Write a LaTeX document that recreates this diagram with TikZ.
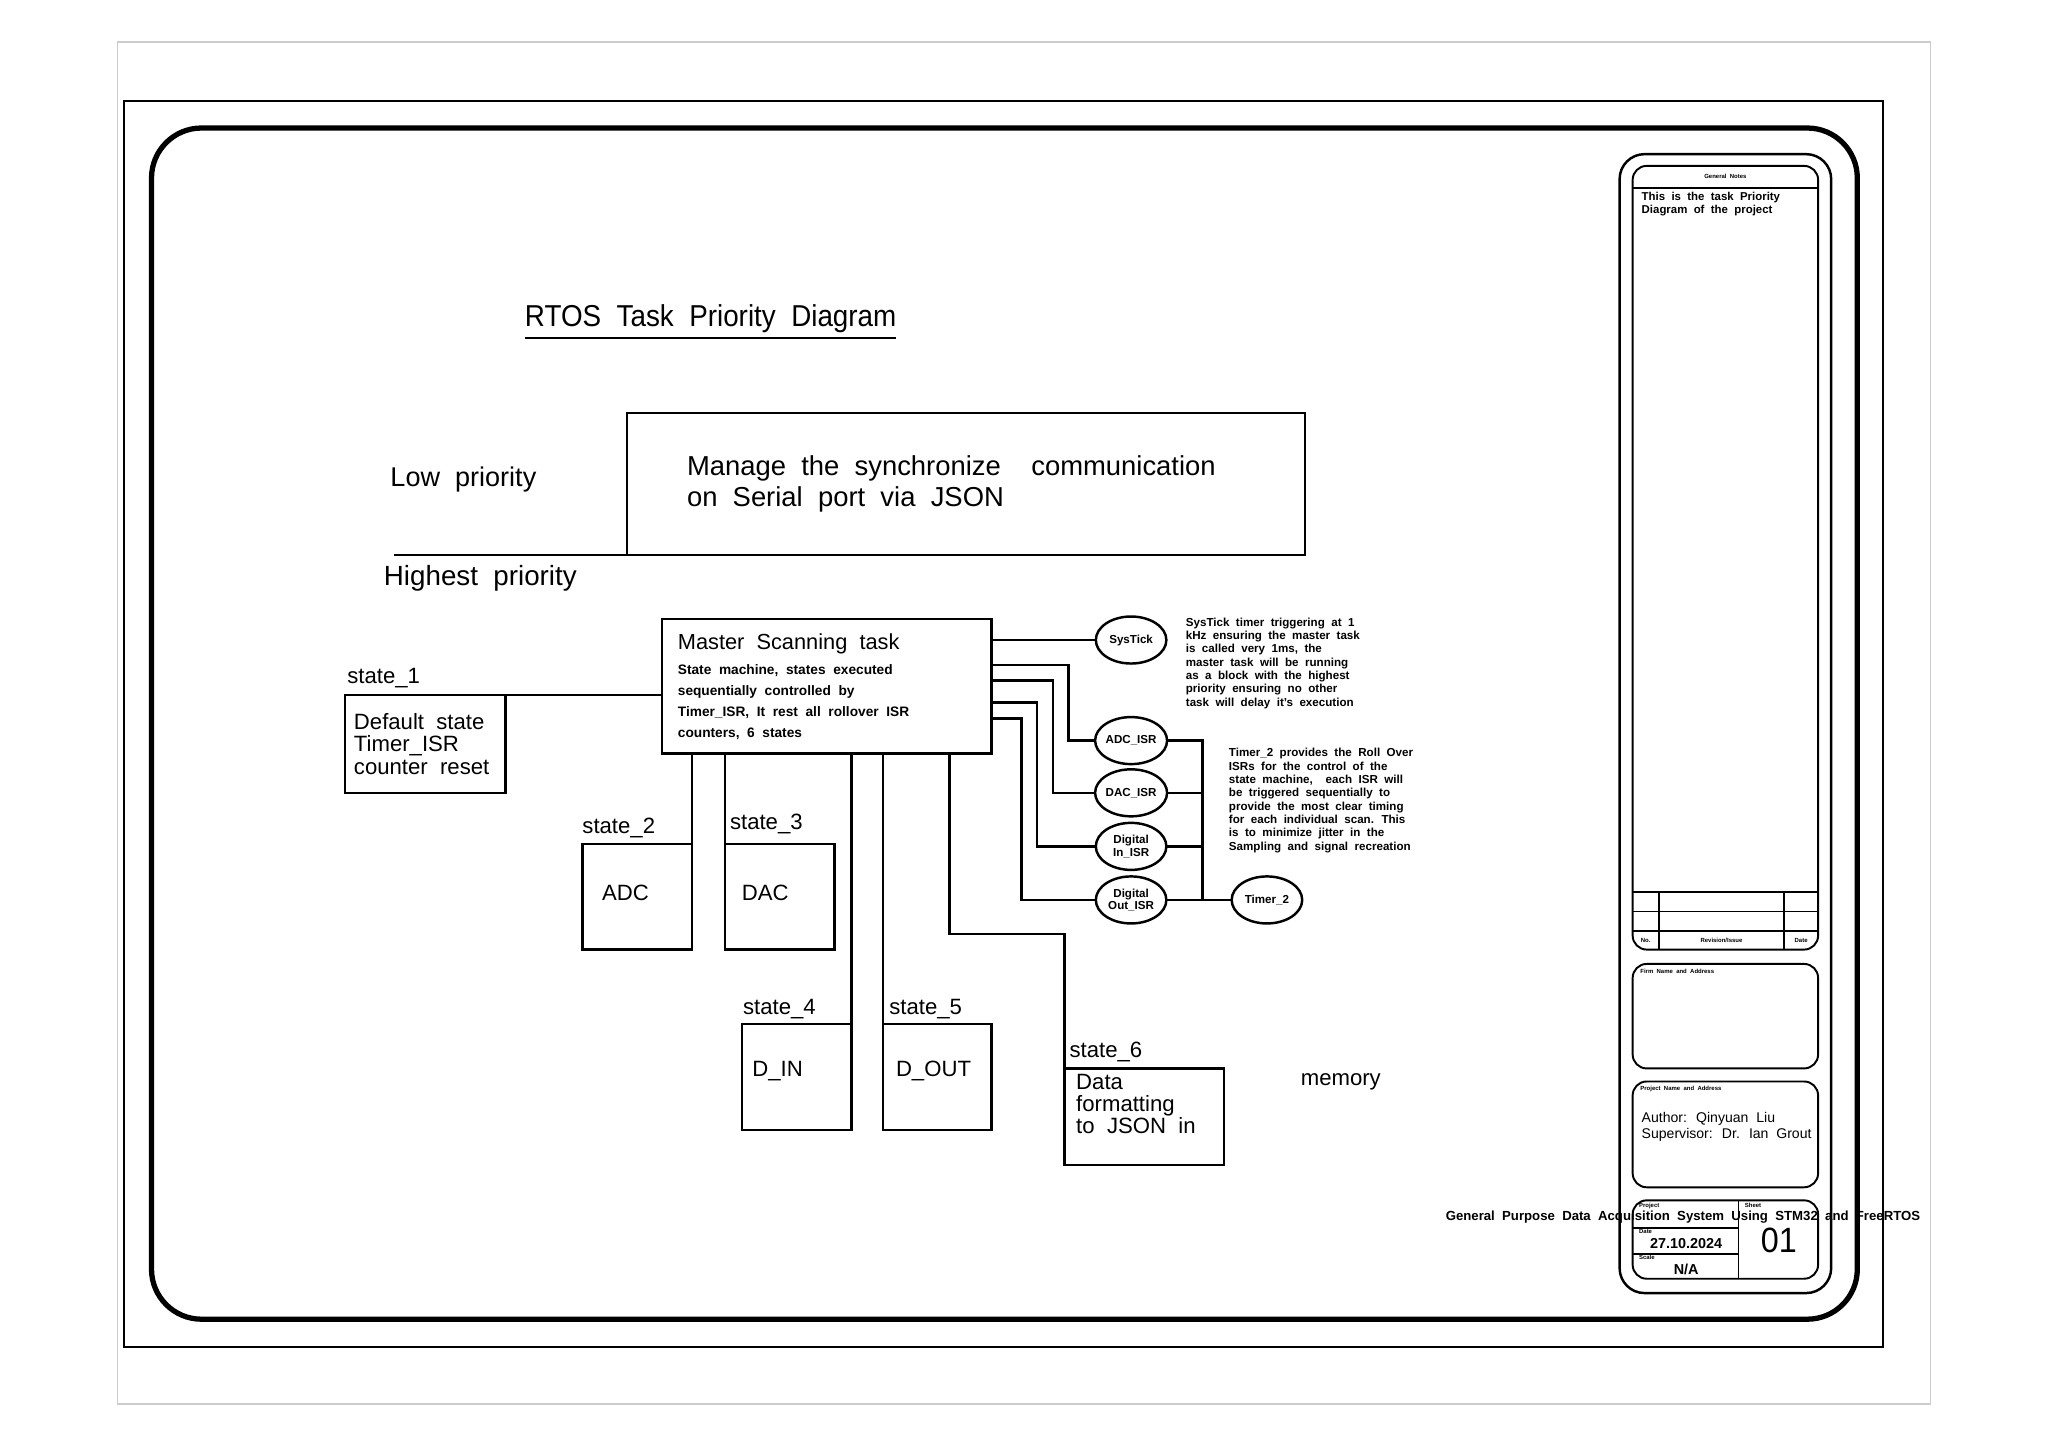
\documentclass[tikz,border=0pt]{standalone}
\usepackage{fontspec}
\setmainfont{Liberation Sans}[WordSpace=2]
\newfontfamily\narrowfont[FakeStretch=0.92, WordSpace=2]{Liberation Sans}
\usepackage{tikz}
\usetikzlibrary{calc,shapes,shapes.geometric,positioning}

\newcommand{\fsz}[2]{\fontsize{#1}{#2}\selectfont}
\newcommand{\wsp}{\spaceskip=0pt\xspaceskip=0pt\relax}
\def\u{0.01306cm}

\tikzset{
  statebox/.style={draw, rectangle, anchor=north west, align=left, inner ysep=0pt, outer sep=0pt},
  statelbl/.style={anchor=base west, inner sep=0pt, font=\fsz{6.3}{6.3}},
  isr/.style={draw, ellipse, inner sep=0pt, outer sep=0pt, minimum width=54*\u, minimum height=36*\u,
    align=center, font=\bfseries\fsz{3.3}{3.5}},
  note/.style={anchor=north west, inner sep=0pt, align=left, font=\bfseries\fsz{3.3}{3.8}},
  tinylbl/.style={inner sep=0pt, font=\bfseries\fsz{1.7}{2}}
}

\begin{document}
\begin{tikzpicture}[x=0.01306cm, y=-0.01306cm, line width=0.7pt]
\useasboundingbox[fill=white] (0,0) rectangle (1568,1108);

% sheet frame
\draw[line width=0.4pt, black!20] (90,32) rectangle (1478,1075);
\draw[line width=0.6pt] (95,77) rectangle (1442,1031);
\draw[line width=1.5pt, rounded corners=0.5cm] (116,98) rectangle (1422,1010);

% title block
\draw[rounded corners=0.25cm] (1240,118) rectangle (1402,990);
\begin{scope}[line width=0.55pt, rounded corners=0.14cm]
\draw (1250,127) rectangle (1392,727);
\draw (1250,738) rectangle (1392,818);
\draw (1250,828) rectangle (1392,909);
\draw (1250,919) rectangle (1392,979);
\end{scope}
\begin{scope}[line width=0.45pt]
\draw (1250,144) -- (1392,144);
\foreach \yy in {683,698,713} \draw (1250,\yy) -- (1392,\yy);
\draw (1270,683) -- (1270,727);
\draw (1366,683) -- (1366,727);
\draw (1331,919) -- (1331,979);
\draw (1250,940) -- (1331,940);
\draw (1250,960) -- (1331,960);
\end{scope}
\node[tinylbl] (gnotes) at (1321,135) {General Notes};
\node[note, font=\bfseries\fsz{3.25}{3.7}] (notes) at (1256,146) {This is the task Priority\\Diagram of the project};
\node[tinylbl] (revno) at (1260,720) {No.};
\node[tinylbl] (revis) at (1318,720) {Revision/Issue};
\node[tinylbl] (revdate) at (1379,720) {Date};
\node[tinylbl, anchor=west] (firm) at (1255,744) {Firm Name and Address};
\node[tinylbl, anchor=west] (proj) at (1255,834) {Project Name and Address};
\node[note, font=\fsz{4}{4.4}] (author) at (1256,851) {Author: Qinyuan Liu\\Supervisor: Dr. Ian Grout};
\node[tinylbl, anchor=west] (tproj) at (1254,923) {Project};
\node[tinylbl, anchor=west] (tsheet) at (1335,923) {Sheet};
\node[tinylbl, anchor=west] (tdate) at (1254,943) {Date};
\node[tinylbl, anchor=west] (tscale) at (1254,963) {Scale};
\node[inner sep=0pt, font=\bfseries\fsz{4.1}{4.1}] (date) at (1291,952) {27.10.2024};
\node[inner sep=0pt, font=\bfseries\fsz{4.1}{4.1}] (scale) at (1291,972) {N/A};
\node[inner sep=0pt, font=\narrowfont\fsz{10}{10}] (sheet) at (1362,950) {01};
\node[anchor=west, inner sep=0pt, font=\bfseries\fsz{3.75}{3.75}] (ptitle) at (1106,932)
  {General Purpose Data Acquisition System Using STM32 and FreeRTOS};

% priority part
\node[anchor=west, inner sep=0pt, font=\narrowfont\fsz{8.6}{8.6}] (title) at (401,247)
  {\underline{RTOS Task Priority Diagram}};
\node[statebox, minimum width=519*\u, minimum height=109*\u, inner xsep=46*\u,
  text width=427*\u, font=\fsz{7.8}{8.6}] (serial) at (480,316)
  {\wsp Manage the synchronize \ communication\\on Serial port via JSON};
\node[anchor=west, inner sep=0pt, font=\fsz{7.7}{7.7}] (low) at (298,367) {Low priority};
\node[anchor=west, inner sep=0pt, font=\fsz{7.9}{7.9}] (high) at (293,443) {Highest priority};
\coordinate (pline) at (302,425);
\draw (pline) -- (pline -| serial.west);

% master task and states
\node[statebox, minimum width=252*\u, minimum height=103*\u, inner xsep=12*\u,
  text width=228*\u, font=\bfseries\fsz{3.9}{5.95}] (master) at (507,474)
  {\wsp{\mdseries\fsz{6.2}{6.2}\wsp Master Scanning task}\\[1.2pt]
   State machine, states executed\\sequentially controlled by\\
   Timer\_ISR, It rest all rollover ISR\\counters, 6 states};

\node[statebox, minimum width=123*\u, minimum height=75*\u, inner xsep=7*\u,
  text width=109*\u, font=\fsz{6.3}{6.4}] (s1) at (264,532)
  {\wsp Default state\\Timer\_ISR\\counter reset};
\node[statebox, minimum width=84*\u, minimum height=81*\u, inner xsep=15*\u,
  text width=54*\u, font=\fsz{6.3}{6.4}] (s2) at (446,646) {ADC\\[-4.4pt]\mbox{}};
\node[statebox, minimum width=84*\u, minimum height=81*\u, inner xsep=13*\u,
  text width=58*\u, font=\fsz{6.3}{6.4}] (s3) at (555,646) {DAC\\[-4.4pt]\mbox{}};
\node[statebox, minimum width=84*\u, minimum height=81*\u, inner xsep=8*\u,
  text width=68*\u, font=\fsz{6.3}{6.4}] (s4) at (568,784) {D\_IN\\[-2pt]\mbox{}};
\node[statebox, minimum width=83*\u, minimum height=81*\u, inner xsep=10*\u,
  text width=63*\u, font=\fsz{6.3}{6.4}] (s5) at (676,784) {D\_OUT\\[-1.5pt]\mbox{}};
\node[statebox, minimum width=122*\u, minimum height=74*\u, inner xsep=9*\u,
  text width=104*\u, font=\fsz{6.3}{6.2}] (s6) at (815,818)
  {\wsp Data\\formatting\\to JSON in\\[1pt]\mbox{}};

\node[statelbl] (l1) at ($(s1.north west)+(1,-9)$) {state\_1};
\node[statelbl] (l2) at ($(s2.north west)+(-1,-8)$) {state\_2};
\node[statelbl] (l3) at ($(s3.north west)+(3,-11)$) {state\_3};
\node[statelbl] (l4) at ($(s4.north west)+(0,-7)$) {state\_4};
\node[statelbl] (l5) at ($(s5.north west)+(4,-7)$) {state\_5};
\node[statelbl] (l6) at ($(s6.north west)+(3,-8)$) {state\_6};
\node[anchor=west, inner sep=0pt, font=\fsz{6.3}{6.3}] (mem) at (995,828) {memory};

\draw (s1.north east) -- (s1.north east -| master.west);
\draw (master.south -| s2.north east) -- (s2.north east);
\draw (master.south -| s3.north west) -- (s3.north west);
\draw (master.south -| s4.north east) -- (s4.north east);
\draw (master.south -| s5.north west) -- (s5.north west);
\draw ($(master.south east)+(-32,0)$) -- ++(0,138) -| (s6.north west);

% interrupts
\node[isr] (sys) at (866,490) {SysTick};
\node[isr] (adc) at (866,567) {ADC\_ISR};
\node[isr] (dac) at (866,607) {DAC\_ISR};
\node[isr] (din) at (866,648) {Digital\\In\_ISR};
\node[isr] (dout) at (866,689) {Digital\\Out\_ISR};
\node[isr] (tim) at (970,689) {Timer\_2};

\draw (master.east |- sys.west) -- (sys.west);
\draw ($(master.north east)+(0,35)$) -- ++(59,0) |- (adc.west);
\draw ($(master.north east)+(0,47)$) -- ++(47,0) |- (dac.west);
\draw ($(master.north east)+(0,64)$) -- ++(35,0) |- (din.west);
\draw ($(master.north east)+(0,76)$) -- ++(23,0) |- (dout.west);
\draw (adc.east) -- ++(27,0) coordinate (bus) -- (bus |- tim.west);
\draw (dac.east) -- (dac.east -| bus);
\draw (din.east) -- (din.east -| bus);
\draw (dout.east) -- (tim.west);

\node[note] (sysnote) at (907,472)
  {SysTick timer triggering at 1\\kHz ensuring the master task\\is called very 1ms, the\\
   master task will be running\\as a block with the highest\\priority ensuring no other\\
   task will delay it's execution};
\node[note] (timnote) at (940,572)
  {Timer\_2 provides the Roll Over\\ISRs for the control of the\\state machine, \ each ISR will\\
   be triggered sequentially to\\provide the most clear timing\\for each individual scan. This\\
   is to minimize jitter in the\\Sampling and signal recreation};
\end{tikzpicture}
\end{document}
